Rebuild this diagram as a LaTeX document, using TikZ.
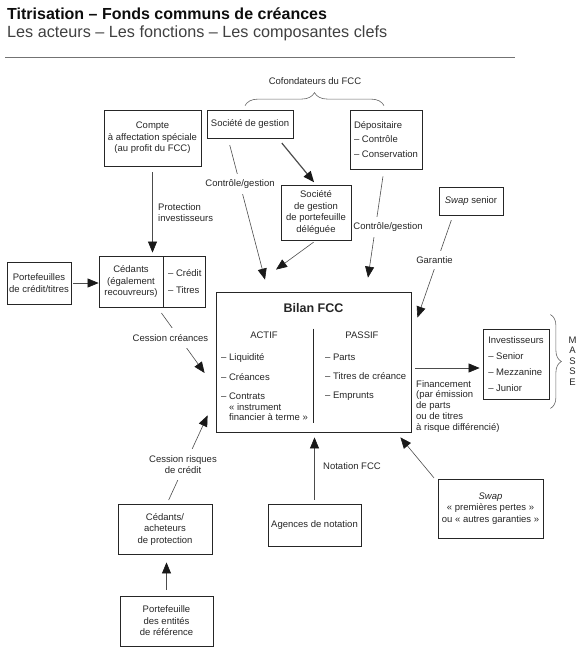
\documentclass[tikz,border=0pt]{standalone}
\usepackage{fontspec}
\setmainfont{Liberation Sans}
\usetikzlibrary{arrows.meta, decorations.pathreplacing}

\begin{document}
\begin{tikzpicture}[x=1pt, y=-1pt,
  every node/.style={font=\fontsize{9.5}{11.5}\selectfont, text=black!85},
  box/.style={draw=black!85, line width=0.8pt, inner sep=0pt, align=center},
  flow/.style={draw=black!70, line width=0.6pt, -{Triangle[length=11pt, width=9pt, color=black!90]}},
  link/.style={fill=white, inner xsep=1pt, inner ysep=6pt, align=center},
  note/.style={inner sep=0pt, align=left},
  list/.style={inner sep=0pt, align=left, font=\fontsize{9.5}{10.8}\selectfont},
  cbrace/.style={draw=black!60, line width=0.6pt, decorate, decoration={brace, amplitude=#1}}]
  \useasboundingbox (0,0) rectangle (585,659);

  \node[anchor=base west, inner sep=0pt, font=\fontsize{16}{18}\selectfont\bfseries, text=black!95] (title) at (7,19) {Titrisation – Fonds communs de créances};
  \node[anchor=base west, inner sep=0pt, font=\fontsize{16.2}{18}\selectfont, text=black!75] (subtitle) at (7,37.5) {Les acteurs – Les fonctions – Les composantes clefs};
  \draw[black!55, line width=1.3pt] (5,57.5) -- (515,57.5);

  \node[box, minimum width=97pt, minimum height=56pt] (compte) at (152.5,138) {Compte\\à affectation spéciale\\(au profit du FCC)};
  \node[box, minimum width=86pt, minimum height=28pt] (socgest) at (250,124) {Société de gestion};
  \node[box, minimum width=72pt, minimum height=59pt, align=left] (depos) at (386,139.5) {Dépositaire\\[3pt]– Contrôle\\[3pt]– Conservation};
  \node[box, minimum width=70pt, minimum height=55pt] (deleg) at (316,212.5) {Société\\de gestion\\de portefeuille\\déléguée};
  \node[box, minimum width=64pt, minimum height=28pt] (swapsr) at (471,201) {\textit{Swap} senior};
  \node[box, minimum width=64pt, minimum height=42pt] (portf) at (39,283) {Portefeuilles\\de crédit/titres};
  \node[box, minimum width=64pt, minimum height=51pt] (cedants) at (131,281.5) {Cédants\\(également\\recouvreurs)};
  \node[box, minimum width=42pt, minimum height=51pt, align=left, anchor=west] (cedtypes) at (cedants.east) {– Crédit\\[5pt]– Titres};
  \node[box, minimum width=195pt, minimum height=140pt] (bilan) at (313.5,362) {};
  \node[box, minimum width=66pt, minimum height=70pt, align=left] (invest) at (516,364) {Investisseurs\\[4.5pt]– Senior\\[4.5pt]– Mezzanine\\[4.5pt]– Junior};
  \node[box, minimum width=94pt, minimum height=50pt] (cedprot) at (165,529) {Cédants/\\acheteurs\\de protection};
  \node[box, minimum width=93pt, minimum height=50pt] (portref) at (166.5,621) {Portefeuille\\des entités\\de référence};
  \node[box, minimum width=93pt, minimum height=42pt] (agences) at (314.5,525) {Agences de notation};
  \node[box, minimum width=105pt, minimum height=59pt] (swappp) at (490.5,508.5) {\textit{Swap}\\« premières pertes »\\ou « autres garanties »};

  \node[anchor=base, inner sep=0pt, font=\fontsize{12.5}{14}\selectfont\bfseries] (bilantitle) at (313.5,312.5) {Bilan FCC};
  \node[anchor=base, inner sep=0pt] (actif) at (264,338.5) {ACTIF};
  \node[anchor=base, inner sep=0pt] (passif) at (362,338.5) {PASSIF};
  \draw[black!85, line width=0.8pt] ([yshift=-37pt]bilan.north) -- ([yshift=9pt]bilan.south);
  \node[list, anchor=north west] (actiflist) at (221,353.5) {– Liquidité\\[8.5pt]– Créances\\[8.5pt]– Contrats\\\phantom{– }« instrument\\\phantom{– }financier à terme »};
  \node[list, anchor=north west] (passiflist) at (325,353.5) {– Parts\\[8.5pt]– Titres de créance\\[8.5pt]– Emprunts};

  \draw[cbrace=13pt] ([xshift=-5pt,yshift=4pt]socgest.north) -- ([xshift=-2pt,yshift=4pt]depos.north);
  \node (cofond) at (315,81.5) {Cofondateurs du FCC};
  \draw[cbrace=11pt] ([xshift=1pt,yshift=14pt]invest.north east) -- ([xshift=1pt,yshift=-9pt]invest.south east);
  \node[align=center, inner sep=0pt, font=\fontsize{9.5}{10.6}\selectfont] (masse) at (572.5,361) {M\\A\\S\\S\\E};

  \draw[flow, shorten <=6pt, shorten >=3pt] (compte.south) -- (compte.south |- cedants.north);
  \draw[flow, shorten <=2pt] (portf.east) -- (portf.east -| cedants.west);
  \draw[flow, shorten <=7pt] ([xshift=-6pt]cedants.south east) -- ([xshift=-11pt,yshift=-11pt]bilan.west);
  \draw[flow, shorten <=7pt] ([xshift=-22pt]socgest.south) -- ([xshift=-48.5pt,yshift=12pt]bilan.north);
  \draw[flow, line width=1.2pt, shorten <=6pt, shorten >=3pt] ([xshift=28pt]socgest.south) -- (deleg.north);
  \draw[flow, shorten <=3pt] (deleg.south) -- ([xshift=-37.5pt,yshift=22pt]bilan.north);
  \draw[flow, shorten <=7pt] ([xshift=-2pt]depos.south) -- ([xshift=54.5pt,yshift=14pt]bilan.north);
  \draw[flow, shorten <=5pt] ([xshift=-18pt]swapsr.south) -- ([xshift=6pt,yshift=-26pt]bilan.north east);
  \draw[flow, shorten <=4pt] ([xshift=2pt]cedprot.north) -- ([xshift=-8pt,yshift=17pt]bilan.south west);
  \draw[flow, shorten <=4pt, shorten >=5pt] (agences.north) -- (agences.north |- bilan.south);
  \draw[flow, shorten <=1pt] ([xshift=-3pt]swappp.north west) -- ([xshift=-11pt,yshift=-5pt]bilan.south east);
  \draw[flow, shorten <=6pt, shorten >=8pt] (portref.north) -- (portref.north |- cedprot.south);
  \coordinate (finend) at ([yshift=-4pt]invest.west);
  \draw[flow, shorten <=4pt, shorten >=3pt] (finend -| bilan.east) -- (finend);

  \node[note, anchor=north west] (lbprotect) at (158,203) {Protection\\investisseurs};
  \node[link] (lbcession) at (170.5,338) {Cession créances};
  \node[link] (lbsocgest) at (240,184) {Contrôle/gestion};
  \node[link] (lbdepos) at (388,227) {Contrôle/gestion};
  \node[link] (lbgarantie) at (434.5,260) {Garantie};
  \node[link] (lbrisques) at (183,464.5) {Cession risques\\de crédit};
  \node[note, anchor=west] (lbnotation) at (323,466.5) {Notation FCC};
  \node[note, anchor=north west, font=\fontsize{9.5}{10.8}\selectfont] (lbfinance) at (416,380) {Financement\\(par émission\\de parts\\ou de titres\\à risque différencié)};
\end{tikzpicture}
\end{document}
